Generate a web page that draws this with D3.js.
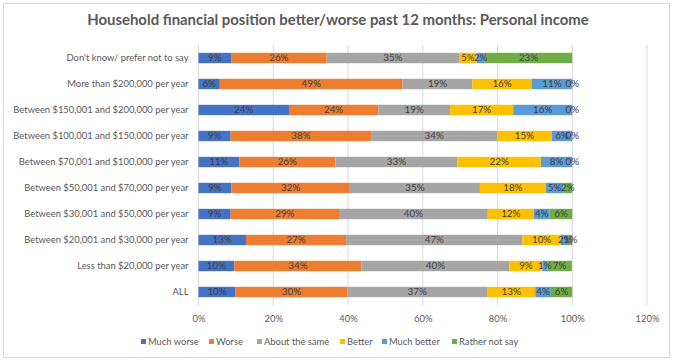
<!DOCTYPE html>
<html><head><meta charset="utf-8">
<script src="https://cdn.jsdelivr.net/npm/d3@7"></script>
<style>
html,body{margin:0;padding:0;background:#fff;}
text{font-family:Lato,"Open Sans",sans-serif;}
</style></head>
<body><svg id="c" width="676" height="363"></svg>
<script>
const categories = ["Don't know/ prefer not to say","More than $200,000 per year","Between $150,001 and $200,000 per year","Between $100,001 and $150,000 per year","Between $70,001 and $100,000 per year","Between $50,001 and $70,000 per year","Between $30,001 and $50,000 per year","Between $20,001 and $30,000 per year","Less than $20,000 per year","ALL"];
const seriesNames = ["Much worse","Worse","About the same","Better","Much better","Rather not say"];
const muchWorse   = [8.7, 5.7, 24.2, 8.6, 10.9, 8.8, 8.6, 12.7, 9.6, 9.9];
const worse       = [25.6, 48.9, 23.9, 37.6, 25.7, 31.7, 29.0, 26.8, 34.0, 29.9];
const aboutSame   = [35.4, 18.7, 19.2, 33.7, 32.7, 34.8, 39.8, 47.2, 39.6, 37.4];
const better      = [4.7, 15.8, 16.9, 14.6, 22.3, 17.6, 12.3, 10.2, 8.8, 12.9];
const muchBetter  = [2.2, 10.9, 15.8, 5.5, 8.4, 4.7, 4.3, 2.2, 1.3, 4.2];
const ratherNot   = [23.4, 0, 0, 0, 0, 2.4, 6.0, 0.9, 6.6, 5.7];
const xTicks = [0, 20, 40, 60, 80, 100, 120];
const colors = ["#4472C4","#ED7D31","#A5A5A5","#FFC000","#5B9BD5","#70AD47"];
const title = "Household financial position better/worse past 12 months: Personal income";

const series = [muchWorse, worse, aboutSame, better, muchBetter, ratherNot];
const FS = 9.4;
const svg = d3.select("#c");
svg.append("rect").attr("x",3.5).attr("y",3.5).attr("width",666).attr("height",354)
  .attr("fill","#fff").attr("stroke","#d9d9d9");

svg.append("text").attr("x",338).attr("y",25).attr("text-anchor","middle")
  .attr("font-size",14.9).attr("font-weight","bold").attr("fill","#595959").text(title);

const x = d3.scaleLinear().domain([0,120]).range([198.5,647]);
const y = d3.scaleBand().domain(categories).range([45,305]).paddingInner(0.6).paddingOuter(0.3);

// gridlines
svg.append("g").selectAll("line").data(xTicks).join("line")
  .attr("x1",d=>x(d)).attr("x2",d=>x(d)).attr("y1",45).attr("y2",305)
  .attr("stroke","#d9d9d9").attr("stroke-width",1);

// x axis labels
const xa = svg.append("g").attr("transform","translate(0,305)")
  .call(d3.axisBottom(x).tickValues(xTicks).tickSize(0).tickPadding(10).tickFormat(d=>d+"%"));
xa.select(".domain").remove();
xa.selectAll("text").attr("fill","#595959").attr("font-size",FS).style("font-family","Lato");

// y axis labels
const ya = svg.append("g").attr("transform","translate(198.5,0)")
  .call(d3.axisLeft(y).tickSize(0).tickPadding(10));
ya.select(".domain").remove();
ya.selectAll("text").attr("fill","#595959").attr("font-size",FS).style("font-family","Lato");

// stacked bars
const rows = categories.map((c,i)=>{ const o={cat:c}; seriesNames.forEach((s,j)=>o[s]=series[j][i]); return o;});
const stack = d3.stack().keys(seriesNames)(rows);
const g = svg.append("g");
stack.forEach((layer,j)=>{
  g.append("g").attr("fill",colors[j]).selectAll("rect").data(layer).join("rect")
    .attr("x",d=>x(d[0])).attr("width",d=>Math.max(0,x(d[1])-x(d[0])))
    .attr("y",d=>y(d.data.cat)).attr("height",y.bandwidth());
});
stack.forEach((layer,j)=>{
  g.append("g").selectAll("text").data(layer).join("text")
    .attr("x",d=>(x(d[0])+x(d[1]))/2).attr("y",d=>y(d.data.cat)+y.bandwidth()/2)
    .attr("dy","0.35em").attr("text-anchor","middle").attr("font-size",FS+0.4)
    .attr("fill","#404040").text(d=>Math.round(d[1]-d[0])+"%");
});

// legend
const legX = [141, 209, 257, 340, 382, 452];
const leg = svg.append("g");
seriesNames.forEach((s,j)=>{
  leg.append("rect").attr("x",legX[j]).attr("y",339).attr("width",5).attr("height",5).attr("fill",colors[j]);
  leg.append("text").attr("x",legX[j]+7).attr("y",341.5).attr("dy","0.35em")
    .attr("font-size",FS).attr("fill","#595959").text(s);
});
</script></body></html>
